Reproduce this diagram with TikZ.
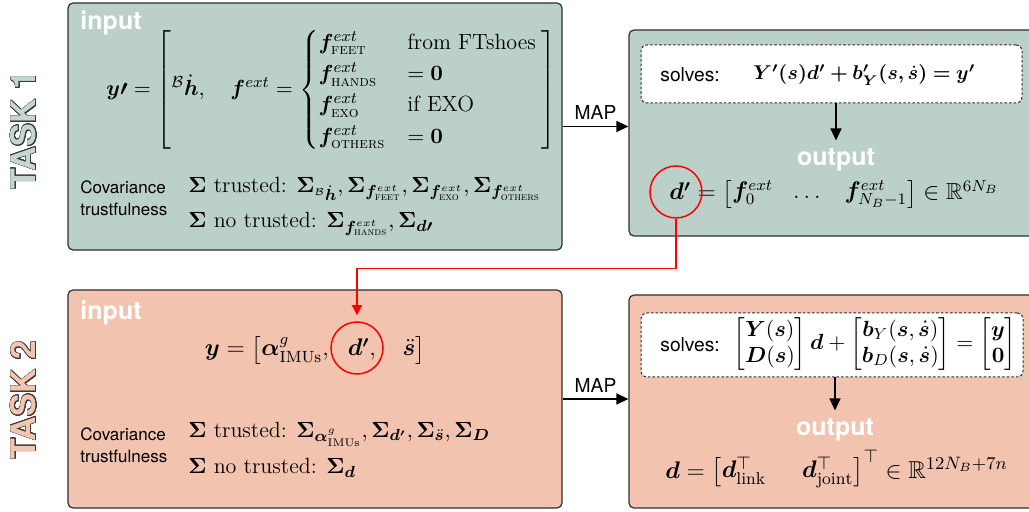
\documentclass[tikz,border=0pt]{standalone}
\usepackage{amsmath,amssymb,bm}
\usepackage{fontspec}
\setsansfont{TeX Gyre Heros}
\usepackage{contour}
\contourlength{0.4pt}
\contournumber{24}
\usetikzlibrary{arrows.meta,fit,calc}
\definecolor{greenc}{HTML}{BBD0C8}
\definecolor{salmonc}{HTML}{F2C3AF}
\definecolor{bordc}{HTML}{2E2E2E}
\definecolor{taskline}{HTML}{3A3A3A}
\definecolor{taskgreen}{HTML}{C3D7CE}
\definecolor{tasksalmon}{HTML}{F3C4AF}
\begin{document}
\begin{tikzpicture}[x=0.5pt,y=-0.5pt,
  boxg/.style={draw=bordc, line width=0.6pt, rounded corners=2.5pt, fill=greenc, inner sep=0pt},
  boxs/.style={draw=bordc, line width=0.6pt, rounded corners=2.5pt, fill=salmonc, inner sep=0pt},
  solbox/.style={draw=bordc, dash pattern=on 1.3pt off 1pt, fill=white, rounded corners=3pt, line width=0.5pt, inner sep=0pt},
  lbl/.style={font=\sffamily\bfseries\fontsize{12.5}{14}\selectfont, text=white, inner sep=0pt},
  sans/.style={font=\sffamily\fontsize{8.5}{11}\selectfont, inner sep=0pt, align=left},
  sanslbl/.style={font=\sffamily\fontsize{9.6}{11}\selectfont, inner sep=0pt},
  mth/.style={font=\fontsize{11}{13}\selectfont, inner sep=0pt},
  arr/.style={-{Triangle[length=6pt,width=5.5pt]}, line width=0.6pt},
  redarr/.style={-{Triangle[length=5pt,width=5pt]}, line width=0.6pt, draw=red},
  hl/.style={circle, draw=red, line width=0.75pt, minimum size=26pt, inner sep=0pt},
  task/.style={rotate=90, font=\sffamily\bfseries\fontsize{17}{20}\selectfont, inner sep=0pt}
]
\useasboundingbox (0,0) rectangle (1029,512);
\clip (0,0) rectangle (1029,512);

% boxes
\node[boxg, fit={(68,3) (562,250)}] (tl) {};
\node[boxg, fit={(629,30) (1045,236)}] (tr) {};
\node[boxs, fit={(68,290) (562,508)}] (bl) {};
\node[boxs, fit={(629,295) (1045,508)}] (br) {};
\node[solbox, fit={(641,45) (1022,103)}] (sol1) {};
\node[solbox, fit={(641,313) (1023,377)}] (sol2) {};

% task labels
\node[task] (task1) at (24,130) {\textcolor{taskgreen}{\contour{taskline}{TASK 1}}};
\node[task] (task2) at (24,400) {\textcolor{tasksalmon}{\contour{taskline}{TASK 2}}};

% ---- TASK 1 input
\node[lbl, anchor=west] (in1) at (80,23) {input};
\node[mth, anchor=west] (eq1) at (106,90) {$\bm{y\prime} = \left[{}^{\mathcal{B}}\dot{\bm h},\quad \bm f^{ext} = \begin{cases} \bm f^{ext}_{\text{\textsc{feet}}} & \text{from FTshoes}\\ \bm f^{ext}_{\text{\textsc{hands}}} & = \bm 0\\ \bm f^{ext}_{\text{\textsc{exo}}} & \text{if EXO}\\ \bm f^{ext}_{\text{\textsc{others}}} & = \bm 0\end{cases}\,\right]$};
\node[sans, anchor=west] (cov1) at (80,198) {Covariance\\trustfulness};
\node[mth, anchor=west] (tr1) at (188,189) {$\bm\Sigma$ trusted: $\bm\Sigma_{{}^{\mathcal B}\dot{\bm h}}, \bm\Sigma_{\bm f^{ext}_{\text{\textsc{feet}}}}, \bm\Sigma_{\bm f^{ext}_{\text{\textsc{exo}}}}, \bm\Sigma_{\bm f^{ext}_{\text{\textsc{others}}}}$};
\node[mth, anchor=west] (nt1) at (188,224) {$\bm\Sigma$ no trusted: $\bm\Sigma_{\bm f^{ext}_{\text{\textsc{hands}}}}, \bm\Sigma_{\bm{d\prime}}$};

% ---- TASK 1 output
\node[sanslbl, anchor=west] (sv1) at (660,75) {solves:};
\node[mth, font=\fontsize{10.4}{12}\selectfont, anchor=west] (se1) at (753,75) {$\bm{Y'(s)d' + b'_Y(s,\dot s) = y'}$};
\node[lbl] (out1) at (836,160) {output};
\node[mth, font=\fontsize{11.6}{13}\selectfont, anchor=west] (d1) at (669,194) {$\bm{d'} = \begin{bmatrix}\bm f^{ext}_0 & \dots & \bm f^{ext}_{N_B-1}\end{bmatrix} \in \mathbb{R}^{6N_B}$};
\node[hl] (c1) at (676,192) {};

% ---- TASK 2 input
\node[lbl, anchor=west] (in2) at (80,313) {input};
\node[mth, font=\fontsize{11.6}{14}\selectfont] (eq2) at (315,350) {$\bm y = \bigl[\bm\alpha^g_{\mathrm{IMUs}},\ \ \bm{d'},\ \ \ \ddot{\bm s}\bigr]$};
\node[hl] (c2) at (357,348) {};
\node[sans, anchor=west] (cov2) at (80,445) {Covariance\\trustfulness};
\node[mth, anchor=west] (tr2) at (188,434) {$\bm\Sigma$ trusted: $\bm\Sigma_{\bm\alpha^g_{\mathrm{IMUs}}}, \bm\Sigma_{\bm{d'}}, \bm\Sigma_{\ddot{\bm s}}, \bm\Sigma_{\bm D}$};
\node[mth, anchor=west] (nt2) at (188,468) {$\bm\Sigma$ no trusted: $\bm\Sigma_{\bm d}$};

% ---- TASK 2 output
\node[sanslbl, anchor=west] (sv2) at (660,345) {solves:};
\node[mth, anchor=west] (se2) at (733,344) {$\begin{bmatrix}\bm Y(\bm s)\\ \bm D(\bm s)\end{bmatrix}\bm d + \begin{bmatrix}\bm b_Y(\bm s,\dot{\bm s})\\ \bm b_D(\bm s,\dot{\bm s})\end{bmatrix} = \begin{bmatrix}\bm y\\ \bm 0\end{bmatrix}$};
\node[lbl] (out2) at (835,430) {output};
\node[mth, font=\fontsize{12.2}{14}\selectfont, anchor=west] (d2) at (665,469) {$\bm d = \begin{bmatrix}\bm d_{\mathrm{link}}^{\top} &\ \ \bm d^{\top}_{\mathrm{joint}}\end{bmatrix}^{\top} \in \mathbb{R}^{12N_B+7n}$};

% ---- connectors
\draw[arr] (tl.east) -- (tl.east -| tr.west) node[midway, above=3pt, sanslbl] (map1) {MAP};
\draw[arr] (bl.east) -- (bl.east -| br.west) node[midway, above=3pt, sanslbl] (map2) {MAP};
\draw[arr, shorten >=4pt] (out1.north |- sol1.south) -- (out1.north);
\draw[arr, shorten >=4pt] (out2.north |- sol2.south) -- (out2.north);
\draw[redarr, shorten >=3pt] (c1.south) -- ++(0,50) -| (c2.north);
\end{tikzpicture}
\end{document}
